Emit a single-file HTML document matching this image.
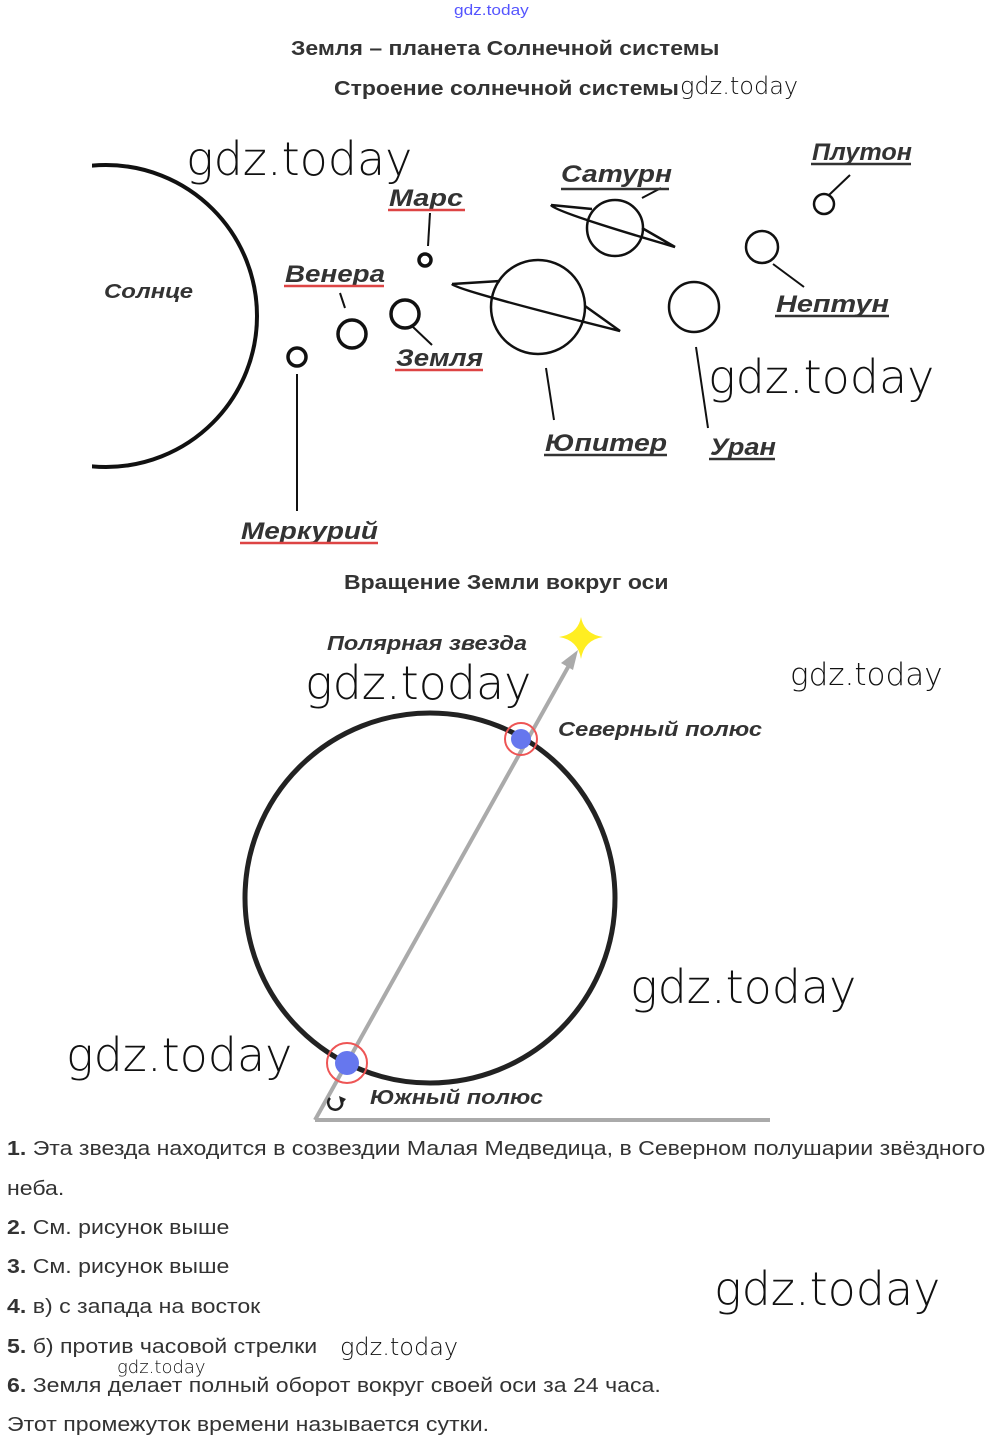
<!DOCTYPE html>
<html><head><meta charset="utf-8">
<style>
body{margin:0;width:992px;height:1453px;background:#fff;position:relative;overflow:hidden;font-family:"Liberation Sans",sans-serif}
.t{position:absolute;white-space:nowrap;transform-origin:0 0;transform:scaleX(1.15)}
.wm{position:absolute;white-space:nowrap;color:#111;font-family:"DejaVu Sans","Liberation Sans",sans-serif;font-weight:200}
.a{position:absolute;left:7px;font-size:20px;color:#333;white-space:nowrap;transform-origin:0 0;transform:scaleX(1.155)}
</style></head><body>
<div class="t" style="left:454px;top:2px;font-size:15px;color:#55f">gdz.today</div>
<div class="t" style="left:291px;top:38px;font-size:20px;font-weight:bold;color:#333">Земля – планета Солнечной системы</div>
<div class="t" style="left:334px;top:78px;font-size:20px;font-weight:bold;color:#333">Строение солнечной системы</div>
<div class="wm" style="left:680px;top:72px;font-size:24px">gdz.today</div>
<div class="wm" style="left:186px;top:132px;font-size:46px">gdz.today</div>
<div class="wm" style="left:708px;top:350px;font-size:46px">gdz.today</div>
<div class="t" style="left:344px;top:572px;font-size:20px;font-weight:bold;color:#333">Вращение Земли вокруг оси</div>
<div class="wm" style="left:305px;top:656px;font-size:46px">gdz.today</div>
<div class="wm" style="left:790px;top:657px;font-size:31px">gdz.today</div>
<div class="wm" style="left:630px;top:960px;font-size:46px">gdz.today</div>
<div class="wm" style="left:66px;top:1028px;font-size:46px">gdz.today</div>
<div class="wm" style="left:714px;top:1262px;font-size:46px">gdz.today</div>
<div class="wm" style="left:340px;top:1333px;font-size:24px">gdz.today</div>
<div class="wm" style="left:117px;top:1357px;font-size:18px">gdz.today</div>

<svg width="992" height="1453" style="position:absolute;left:0;top:0" font-family="Liberation Sans, sans-serif">
<defs><clipPath id="c"><rect x="92" y="0" width="300" height="600"/></clipPath></defs>
<g fill="none" stroke="#111" stroke-width="2.5">
<circle cx="106" cy="316" r="151" stroke-width="4" clip-path="url(#c)"/>
<circle cx="297" cy="357" r="9" stroke-width="3.5"/>
<line x1="297" y1="374" x2="297" y2="511" stroke-width="2"/>
<circle cx="352" cy="334" r="14" stroke-width="3.5"/>
<line x1="340" y1="293" x2="345" y2="308" stroke-width="2"/>
<circle cx="425" cy="260" r="6" stroke-width="3.5"/>
<line x1="430" y1="213" x2="428" y2="246" stroke-width="2"/>
<circle cx="405" cy="314" r="14" stroke-width="3.5"/>
<line x1="413" y1="327" x2="432" y2="345" stroke-width="2"/>
<circle cx="538" cy="307" r="47"/>
<path d="M452,284 L500,281 M452,284 Q456,290 620,331 L585,306" stroke-width="2.5"/>
<line x1="546" y1="368" x2="554" y2="420" stroke-width="2"/>
<circle cx="615" cy="228" r="28"/>
<path d="M551,205 L592,209 M551,205 Q555,212 675,247 L642,228" stroke-width="2.5"/>
<line x1="642" y1="198" x2="661" y2="188" stroke-width="2"/>
<circle cx="694" cy="307" r="25"/>
<line x1="696" y1="347" x2="708" y2="428" stroke-width="2"/>
<circle cx="762" cy="247" r="16"/>
<line x1="773" y1="264" x2="804" y2="287" stroke-width="2"/>
<circle cx="824" cy="204" r="10"/>
<line x1="829" y1="195" x2="850" y2="175" stroke-width="2"/>
</g>
<g font-style="italic" font-weight="bold" font-size="24" fill="#333">
<text x="104" y="298" font-size="20" textLength="89" lengthAdjust="spacingAndGlyphs">Солнце</text>
<text x="389" y="206" textLength="74" lengthAdjust="spacingAndGlyphs">Марс</text>
<text x="285" y="282" textLength="100" lengthAdjust="spacingAndGlyphs">Венера</text>
<text x="396" y="366" textLength="87" lengthAdjust="spacingAndGlyphs">Земля</text>
<text x="241" y="539" textLength="137" lengthAdjust="spacingAndGlyphs">Меркурий</text>
<text x="545" y="451" textLength="122" lengthAdjust="spacingAndGlyphs">Юпитер</text>
<text x="710" y="455" textLength="66" lengthAdjust="spacingAndGlyphs">Уран</text>
<text x="776" y="312" textLength="113" lengthAdjust="spacingAndGlyphs">Нептун</text>
<text x="561" y="182" textLength="111" lengthAdjust="spacingAndGlyphs">Сатурн</text>
<text x="812" y="160" textLength="100" lengthAdjust="spacingAndGlyphs">Плутон</text>
</g>
<g stroke-width="2.5">
<line x1="388" y1="210" x2="465" y2="210" stroke="#d44"/>
<line x1="284" y1="286" x2="384" y2="286" stroke="#d44"/>
<line x1="395" y1="370" x2="483" y2="370" stroke="#d44"/>
<line x1="240" y1="543" x2="378" y2="543" stroke="#d44"/>
<line x1="544" y1="455" x2="667" y2="455" stroke="#333"/>
<line x1="709" y1="459" x2="775" y2="459" stroke="#333"/>
<line x1="775" y1="316" x2="889" y2="316" stroke="#333"/>
<line x1="561" y1="189" x2="669" y2="189" stroke="#333"/>
<line x1="811" y1="164" x2="911" y2="164" stroke="#333"/>
</g>
<circle cx="430" cy="898" r="185" fill="none" stroke="#222" stroke-width="5"/>
<line x1="315" y1="1120" x2="770" y2="1120" stroke="#aaa" stroke-width="4"/>
<line x1="315" y1="1120" x2="572" y2="660" stroke="#aaa" stroke-width="4"/>
<path d="M578,650 L561,663 L573,670 Z" fill="#aaa"/>
<path d="M581,617 Q584,634 603,637 Q584,640 581,659 Q578,640 559,637 Q578,634 581,617Z" fill="#ffee22"/>
<circle cx="521" cy="739" r="16" fill="none" stroke="#e55" stroke-width="2"/>
<circle cx="521" cy="739" r="10" fill="#6677ee"/>
<circle cx="347" cy="1063" r="20" fill="none" stroke="#e55" stroke-width="2"/>
<circle cx="347" cy="1063" r="12" fill="#6677ee"/>
<path d="M330,1098 A7,7 0 1 0 342,1101" fill="none" stroke="#222" stroke-width="2.5"/>
<path d="M339,1096 L346,1099 L341,1105Z" fill="#222"/>
<g font-style="italic" font-weight="bold" font-size="20" fill="#333">
<text x="327" y="650" textLength="200" lengthAdjust="spacingAndGlyphs">Полярная звезда</text>
<text x="558" y="736" textLength="204" lengthAdjust="spacingAndGlyphs">Северный полюс</text>
<text x="370" y="1104" textLength="173" lengthAdjust="spacingAndGlyphs">Южный полюс</text>
</g>
</svg>
<div class="a" style="top:1138px"><b>1.</b> Эта звезда находится в созвездии Малая Медведица, в Северном полушарии звёздного</div>
<div class="a" style="top:1178px">неба.</div>
<div class="a" style="top:1217px"><b>2.</b> См. рисунок выше</div>
<div class="a" style="top:1256px"><b>3.</b> См. рисунок выше</div>
<div class="a" style="top:1296px"><b>4.</b> в) с запада на восток</div>
<div class="a" style="top:1336px"><b>5.</b> б) против часовой стрелки</div>
<div class="a" style="top:1375px"><b>6.</b> Земля делает полный оборот вокруг своей оси за 24 часа.</div>
<div class="a" style="top:1414px">Этот промежуток времени называется сутки.</div>
</body></html>
